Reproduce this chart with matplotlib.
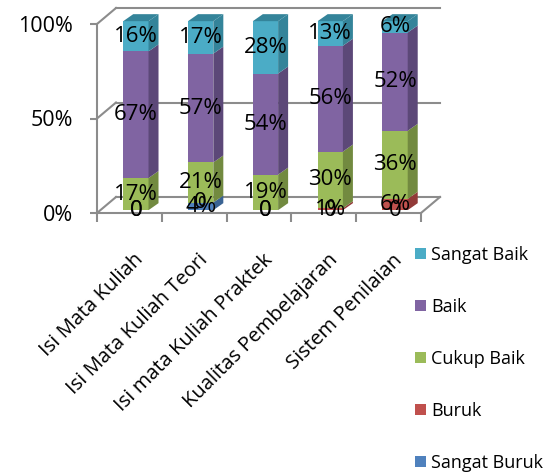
import matplotlib
matplotlib.use("Agg")
import matplotlib.pyplot as plt
from matplotlib.patches import Polygon, Patch
from matplotlib import transforms
import numpy as np

categories = ["Isi Mata Kuliah", "Isi Mata Kuliah Teori", "Isi mata Kuliah Praktek",
              "Kualitas Pembelajaran", "Sistem Penilaian"]
series_names = ["Sangat Buruk", "Buruk", "Cukup Baik", "Baik", "Sangat Baik"]
sangat_buruk = [0, 4, 0, 0, 0]
buruk = [0, 0, 0, 1, 6]
cukup_baik = [17, 21, 19, 30, 36]
baik = [67, 57, 54, 56, 52]
sangat_baik = [16, 17, 28, 13, 6]
yticks = [0, 50, 100]
ytick_labels = ["0%", "50%", "100%"]

series_values = [sangat_buruk, buruk, cukup_baik, baik, sangat_baik]
front_colors = ["#4F81BD", "#C0504D", "#9BBB59", "#8064A2", "#4BACC6"]
side_colors = ["#3A6393", "#923A38", "#728A40", "#5C4878", "#34849A"]

plt.rcParams['font.family'] = ['Open Sans', 'DejaVu Sans']
W, H = 557, 472
fig = plt.figure(figsize=(W / 100, H / 100), dpi=100)

# pixel geometry of the plot frame
x_left_px, x_right_px = 97, 421
y0_px, y100_px = 213, 24
ppu_x = (x_right_px - x_left_px) / 5.0
ppu_y = (y0_px - y100_px) / 100.0
xlim = (-0.5, 5.0)
ylim = (0, 112)
ax_w = (xlim[1] - xlim[0]) * ppu_x
ax_h = (ylim[1] - ylim[0]) * ppu_y
ax = fig.add_axes([x_left_px / W, (H - y0_px) / H, ax_w / W, ax_h / H])
ax.set_xlim(*xlim)
ax.set_ylim(*ylim)
ax.patch.set_visible(False)

grid_c = "#8C8C8C"
dxu = 19 / ppu_x
dyu = 16 / ppu_y
n = len(categories)
# back wall gridlines and floor
for v in yticks:
    ax.plot([-0.5, -0.5 + dxu], [v, v + dyu], color=grid_c, lw=1.5, zorder=1, clip_on=False)
    ax.plot([-0.5 + dxu, n - 0.5 + dxu], [v + dyu, v + dyu], color=grid_c, lw=1.5, zorder=1, clip_on=False)
ax.plot([n - 0.5, n - 0.5 + dxu], [0, dyu], color=grid_c, lw=1.5, zorder=1, clip_on=False)

for s in ["top", "right"]:
    ax.spines[s].set_visible(False)
ax.spines["left"].set_color(grid_c)
ax.spines["left"].set_linewidth(1.5)
ax.spines["left"].set_bounds(0, 100)
ax.spines["bottom"].set_color(grid_c)
ax.spines["bottom"].set_linewidth(1.5)
ax.spines["bottom"].set_bounds(-0.5, n - 0.5)

ax.set_yticks(yticks)
ax.set_yticklabels(ytick_labels, fontsize=15.5)
ax.tick_params(axis="y", length=5, width=1.5, color=grid_c, pad=12)
ax.set_xticks(np.arange(-0.5, n, 1.0))
ax.set_xticklabels([])
ax.tick_params(axis="x", length=6.5, width=1.5, color=grid_c, direction="out")

# 3D-looking stacked bars
bw = 0.39
bdx = 10 / ppu_x
bdy = 7 / ppu_y
xoff = 0.1
base = 1.5
totals = np.sum(np.array(series_values, dtype=float), axis=0)
xs = np.arange(n) + xoff
cum = np.zeros(n)
label_items = []
for si, vals in enumerate(series_values):
    v = np.array(vals, dtype=float)
    h = v / totals * 100.0
    bottoms = base + cum
    ax.bar(xs, h, width=bw, bottom=bottoms, color=front_colors[si], zorder=3, linewidth=0)
    for i in range(n):
        if h[i] <= 0:
            continue
        xr = xs[i] + bw / 2
        b = bottoms[i]
        t = bottoms[i] + h[i]
        ax.add_patch(Polygon([(xr, b), (xr + bdx, b + bdy), (xr + bdx, t + bdy), (xr, t)],
                             closed=True, facecolor=side_colors[si], edgecolor="none", zorder=3))
    for i in range(n):
        lab = f"{vals[i]}%" if vals[i] != 0 else "0"
        label_items.append((xs[i], bottoms[i] + h[i] / 2, lab))
    cum = cum + h

# top faces
for i in range(n):
    top_si = max(si for si in range(len(series_values)) if series_values[si][i] > 0)
    t = base + cum[i]
    xl = xs[i] - bw / 2
    xr = xs[i] + bw / 2
    ax.add_patch(Polygon([(xl, t), (xl + bdx, t + bdy), (xr + bdx, t + bdy), (xr, t)],
                         closed=True, facecolor=side_colors[top_si], edgecolor="none", zorder=3))

for x, y, lab in label_items:
    ax.text(x, y, lab, ha="center", va="center", fontsize=16, color="black", zorder=5)

# category labels
for i, c in enumerate(categories):
    tr = transforms.offset_copy(ax.transData, fig=fig, x=4, y=-37, units="dots")
    ax.text(i, 0, c, rotation=45, rotation_mode="anchor", ha="right", va="top",
            fontsize=14.5, transform=tr)

handles = [Patch(facecolor=front_colors[si], edgecolor="none") for si in range(len(series_names))][::-1]
labels = series_names[::-1]
fig.legend(handles, labels, loc="upper left", bbox_to_anchor=(415 / W, 1 - 246 / H),
           frameon=False, fontsize=13, handlelength=0.6, handleheight=0.6,
           handletextpad=0.3, labelspacing=1.88, borderpad=0, borderaxespad=0)

fig.savefig("out.png", dpi=100)
